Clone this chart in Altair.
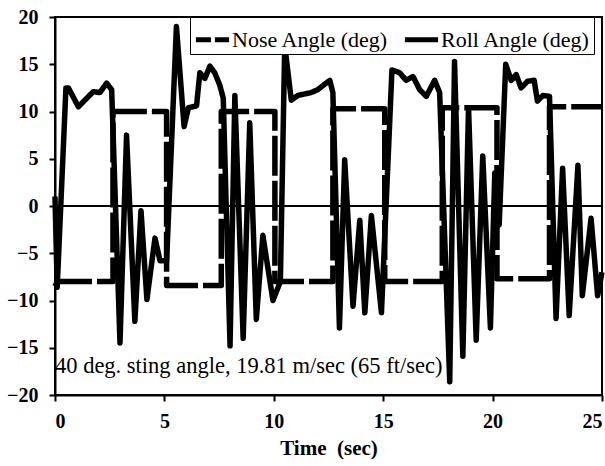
import altair as alt
import pandas as pd

series_names = ["Nose Angle (deg)", "Roll Angle (deg)"]

nose_t = [0.0, 0.1, 2.65, 2.65, 5.1, 5.1, 7.6, 7.6, 10.05, 10.05, 12.7, 12.7,
          15.07, 15.07, 17.7, 17.7, 20.2, 20.2, 22.6, 22.6, 25.0]
nose_v = [-8.5, -8.0, -8.0, 10.0, 10.0, -8.4, -8.4, 10.0, 10.0, -8.0, -8.0, 10.3,
          10.3, -8.0, -8.0, 10.4, 10.4, -7.7, -7.7, 10.5, 10.5]

roll_t = [0.0, 0.1, 0.5, 0.61, 1.07, 1.45, 1.75, 2.05, 2.36, 2.59,
          2.97, 3.27, 3.65, 3.93, 4.2, 4.57, 4.8, 5.1, 5.55, 5.9,
          6.1, 6.47, 6.62, 6.85, 7.08, 7.3, 7.53, 7.69, 8.0, 8.22,
          8.6, 8.9, 9.2, 9.5, 9.96, 10.3, 10.5, 10.8, 11.1, 11.7,
          12.0, 12.56, 12.7, 13.0, 13.24, 13.62, 13.93, 14.16, 14.46, 14.92,
          15.4, 15.75, 16.05, 16.36, 16.67, 16.97, 17.35, 17.58, 18.04, 18.26,
          18.64, 18.9, 19.25, 19.55, 19.9, 20.1, 20.3, 20.6, 20.85, 21.08,
          21.3, 21.6, 21.9, 22.05, 22.3, 22.6, 22.9, 23.2, 23.5, 23.9,
          24.1, 24.5, 24.8, 25.0]
roll_v = [1.0, -8.6, 12.5, 12.5, 10.5, 11.4, 12.1, 12.0, 13.0, 12.3,
          -14.5, 7.5, -12.2, -0.5, -9.9, -3.4, -5.8, -5.8, 19.0, 8.4,
          10.4, 10.6, 14.1, 13.5, 14.8, 14.1, 12.8, 11.4, -14.8, 11.7,
          -14.0, 8.8, -12.0, -3.1, -10.0, -8.0, 17.0, 11.2, 11.7, 12.0,
          12.3, 13.3, 12.0, -12.9, 4.9, -10.6, -1.5, -11.3, -1.0, -11.3,
          14.4, 14.1, 13.3, 13.7, 12.3, 11.6, 13.3, 12.0, -18.6, 15.3,
          -15.9, 10.4, -14.2, 5.3, -12.9, 3.5, -2.0, 15.0, 13.3, 13.9,
          12.5, 13.2, 13.3, 11.1, 11.7, 11.6, -11.9, 4.0, -11.6, 4.3,
          -9.5, -1.3, -9.5, -7.0]

x_ticks = [0, 5, 10, 15, 20, 25]
y_ticks = [-20, -15, -10, -5, 0, 5, 10, 15, 20]
zero_level = [0]
note_text = ["40 deg. sting angle, 19.81 m/sec (65 ft/sec)"]
note_x = [0.0]
note_y = [-17.7]

rows = []
for i, (t, v) in enumerate(zip(nose_t, nose_v)):
    rows.append({"t": t, "v": v, "series": series_names[0], "i": i})
for i, (t, v) in enumerate(zip(roll_t, roll_v)):
    rows.append({"t": t, "v": v, "series": series_names[1], "i": i})
df = pd.DataFrame(rows)

serif = "Liberation Serif"

x_enc = alt.X("t:Q", scale=alt.Scale(domain=[0, 25], nice=False, zero=False),
              axis=alt.Axis(values=x_ticks, title="Time\u00a0 (sec)", format="d"))
y_enc = alt.Y("v:Q", scale=alt.Scale(domain=[-20, 20], nice=False),
              axis=alt.Axis(values=y_ticks, title=None, format="d"))

# visible lines (long dashes for the nose trace)
lines = alt.Chart(df).mark_line(strokeWidth=5.5, color="black", strokeCap="butt",
                                strokeJoin="round").encode(
    x=x_enc,
    y=y_enc,
    detail="series:N",
    order="i:Q",
    strokeDash=alt.StrokeDash(
        "series:N",
        scale=alt.Scale(domain=series_names, range=[[40, 5], [1, 0]]),
        legend=None,
    ),
)

# legend carrier (invisible strokes; legend shows short dashes as in the reference)
legend_layer = alt.Chart(df).mark_line(strokeWidth=5, color="black", strokeOpacity=0).encode(
    x="t:Q",
    y="v:Q",
    detail="series:N",
    order="i:Q",
    strokeDash=alt.StrokeDash(
        "series:N",
        scale=alt.Scale(domain=series_names, range=[[15, 4], [1, 0]]),
        legend=alt.Legend(
            title=None, orient="none", legendX=135, legendY=0,
            direction="horizontal", symbolType="stroke", symbolSize=1100,
            symbolStrokeWidth=5, symbolStrokeColor="black", symbolOpacity=1,
            labelFont=serif, labelFontSize=22, labelColor="black",
            labelOffset=0, columnPadding=5, padding=3,
            strokeColor="black", fillColor="white",
        ),
    ),
)

zero = alt.Chart(pd.DataFrame({"v": zero_level})).mark_rule(
    color="black", strokeWidth=2).encode(y="v:Q")

note = alt.Chart(pd.DataFrame({"t": note_x, "v": note_y, "txt": note_text})).mark_text(
    align="left", baseline="alphabetic", font=serif, fontSize=22.5, color="black"
).encode(x="t:Q", y="v:Q", text="txt:N")

chart = alt.layer(zero, lines, legend_layer, note).resolve_scale(
    strokeDash="independent"
).properties(
    width=547, height=378,
    autosize=alt.AutoSizeParams(type="none"),
    padding={"left": 55, "top": 17, "right": 3, "bottom": 71},
    background="white",
).configure_view(
    stroke="black", strokeWidth=2
).configure_axis(
    labelFont=serif, labelFontWeight="bold", labelFontSize=20, labelColor="black",
    titleFont=serif, titleFontWeight="bold", titleFontSize=21, titleColor="black",
    domainColor="black", domainWidth=2, tickColor="black", tickWidth=2, tickSize=6,
    grid=False,
).configure_axisX(
    labelPadding=10, titlePadding=6,
).configure_axisY(
    labelPadding=11,
)

chart.save("out.html", embed_options={"renderer": "svg", "actions": False})
